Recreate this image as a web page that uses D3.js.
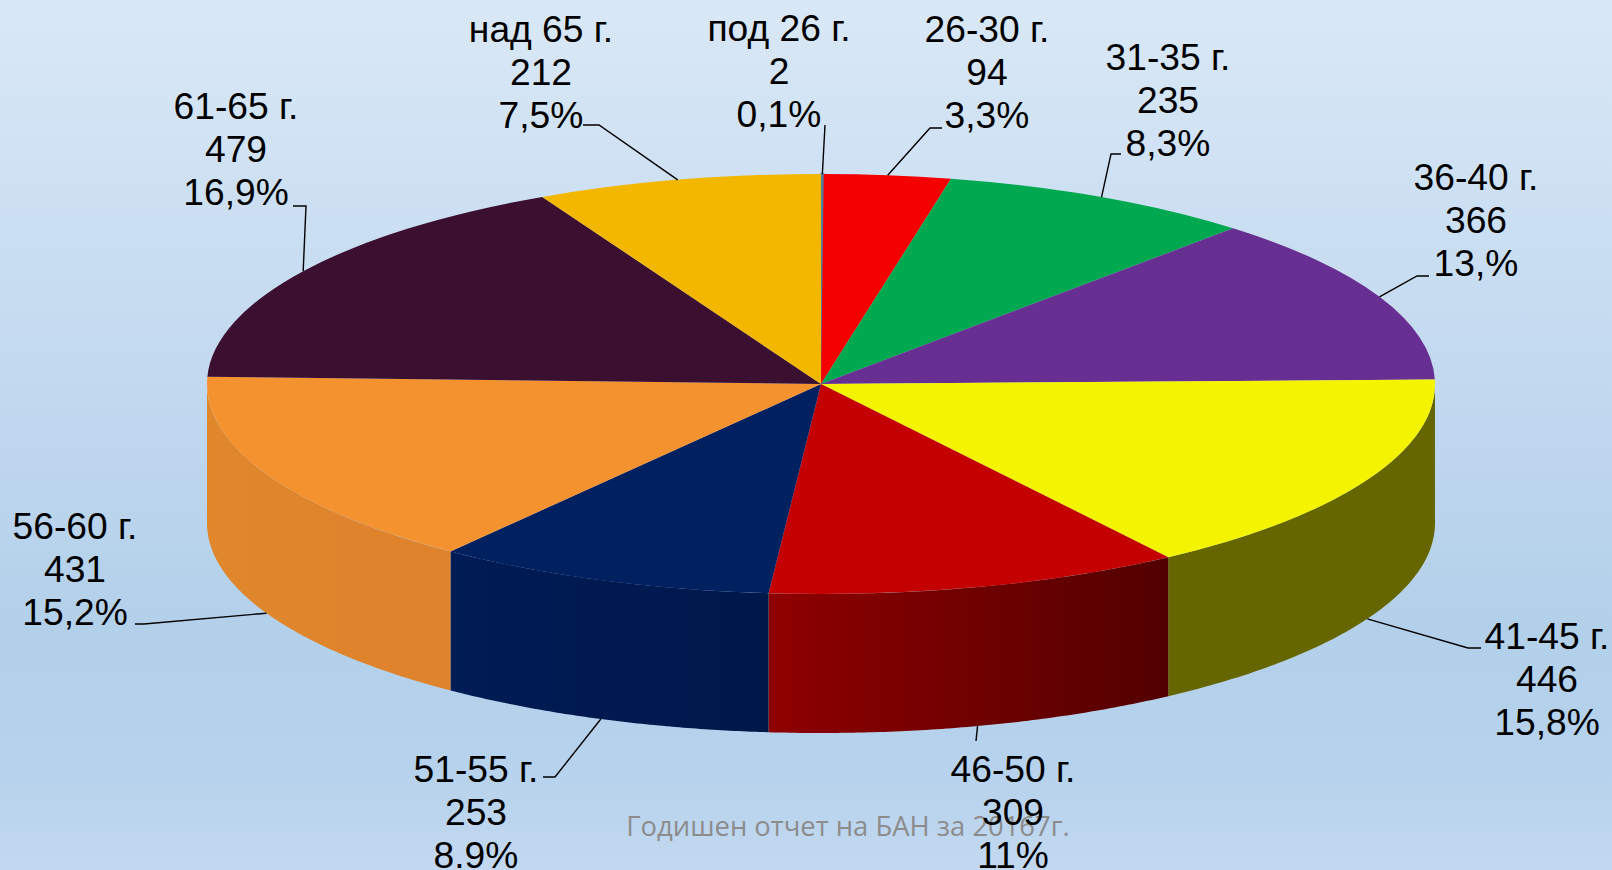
<!DOCTYPE html>
<html>
<head lang="en">
    <meta charset="UTF-8">
    <title></title>
    <script src="https://cdn.jsdelivr.net/npm/d3@7"></script>
    <style>
        html,body{margin:0;padding:0;overflow:hidden;}
        svg{display:block;}
    </style>
</head>
<body>
<div id="tu1"></div>
</body>
</html>
<script>
    var categories=['под 26 г.','26-30 г.','31-35 г.','36-40 г.','41-45 г.','46-50 г.','51-55 г.','56-60 г.','61-65 г.','над 65 г.'];
    var values=[2,94,235,366,446,309,253,431,479,212];
    var percents=['0,1%','3,3%','8,3%','13,%','15,8%','11%','8.9%','15,2%','16,9%','7,5%'];
    var topColors=['#4f7f9f','#f50000','#00a84f','#682f92','#f4f400','#c40000','#002060','#f49230','#3b0f30','#f3b700'];
    // side wall gradient, left colour then right colour
    var wallLeft=['#4f7f9f','#f50000','#00a84f','#682f92','#666600','#8f0000','#001c56','#e0872c','#3b0f30','#f3b700'];
    var wallRight=['#4f7f9f','#f50000','#00a84f','#682f92','#666600','#520000','#00174a','#de822c','#3b0f30','#f3b700'];
    // hand placed labels: x centre, first baseline, then leader bend and leader end
    var labelX=[779,987,1168,1476,1547,1013,476,75,236,541];
    var labelY=[41,42,70,190,649,782,782,539,119,42];
    var leaderBend=[null,[930,128],[1111,154],[1417,276],[1468,648],null,[555,777],[144,624],[306,206],[599,125]];
    var leaderEnd=[[825,125],[942,128],[1121,154],[1429,276],[1481,648],[976,741],[543,777],[135,624],[293,206],[583,125]];

    var width=1612,height=870;
    var cx=821,cy=384,rx=614,ry=210,depth=139,lineH=43.2;

    var svg=d3.select('#tu1').append('svg').attr('width',width).attr('height',height);
    var defs=svg.append('defs');
    var bg=defs.append('linearGradient').attr('id','bg').attr('x1',0).attr('y1',0).attr('x2',0).attr('y2',1);
    bg.append('stop').attr('offset','0%').attr('stop-color','#d9e8f6');
    bg.append('stop').attr('offset','40%').attr('stop-color','#c4daf0');
    bg.append('stop').attr('offset','72%').attr('stop-color','#b3d0ea');
    bg.append('stop').attr('offset','88%').attr('stop-color','#b6d2ec');
    bg.append('stop').attr('offset','100%').attr('stop-color','#c2d8f0');
    svg.append('rect').attr('width',width).attr('height',height).attr('fill','url(#bg)');

    var pie=d3.pie().sort(null).value(function(d){return d;});
    var arcs=pie(values);

    // angle 0 is at the top, clockwise, same as d3.arc
    function px(a){return cx+rx*Math.sin(a);}
    function py(a){return cy-ry*Math.cos(a);}

    // side walls, only the front half of the ellipse is seen
    var wall=d3.area()
            .x(function(a){return px(a);})
            .y0(function(a){return py(a);})
            .y1(function(a){return py(a)+depth;});
    arcs.forEach(function(d,i){
        var a0=Math.max(d.startAngle,Math.PI/2),a1=Math.min(d.endAngle,Math.PI*1.5);
        if(a1<=a0)return;
        var n=80,pts=d3.range(n+1).map(function(k){return a0+(a1-a0)*k/n;});
        var g=defs.append('linearGradient').attr('id','wall'+i)
                .attr('gradientUnits','userSpaceOnUse')
                .attr('x1',d3.min(pts,px)).attr('x2',d3.max(pts,px)).attr('y1',0).attr('y2',0);
        g.append('stop').attr('offset','0%').attr('stop-color',wallLeft[i]);
        g.append('stop').attr('offset','100%').attr('stop-color',wallRight[i]);
        svg.append('path').attr('d',wall(pts)).attr('fill','url(#wall'+i+')');
    });

    // top face, round pie squashed into an ellipse
    var arc=d3.arc().innerRadius(0).outerRadius(rx);
    svg.append('g')
            .attr('transform','translate('+cx+','+cy+') scale(1,'+(ry/rx)+')')
            .selectAll('path')
            .data(arcs)
            .enter()
            .append('path')
            .attr('d',arc)
            .attr('fill',function(d,i){return topColors[i];})
            // the 0,1% slice is a thin band in the reference, keep it visible
            .attr('stroke',function(d,i){return i==0?topColors[i]:'none';})
            .attr('stroke-width',1.5)
            .attr('vector-effect','non-scaling-stroke');

    // leader lines start on the rim at the middle of the slice
    var line=d3.line();
    arcs.forEach(function(d,i){
        var m=(d.startAngle+d.endAngle)/2;
        var front=m>Math.PI/2&&m<Math.PI*1.5;
        var pts=[[px(m),py(m)+(front?depth:0)]];
        if(leaderBend[i])pts.push(leaderBend[i]);
        pts.push(leaderEnd[i]);
        svg.append('path').attr('d',line(pts)).attr('fill','none').attr('stroke','#000').attr('stroke-width',1.4);
    });

    // footer goes under the labels, 309 covers it
    svg.append('text')
            .attr('x',848).attr('y',836)
            .attr('text-anchor','middle')
            .style('font-family','"Open Sans",sans-serif')
            .style('font-size','27.4px')
            .attr('fill','#8c8c8c')
            .text('Годишен отчет на БАН за 20167г.');

    var lab=svg.append('g')
            .style('font-family','"Liberation Sans",Arial,sans-serif')
            .style('font-size','37.2px')
            .attr('text-anchor','middle')
            .attr('fill','#000');
    categories.forEach(function(c,i){
        [c,values[i],percents[i]].forEach(function(t,k){
            lab.append('text').attr('x',labelX[i]).attr('y',labelY[i]+k*lineH).text(t);
        });
    });
</script>
